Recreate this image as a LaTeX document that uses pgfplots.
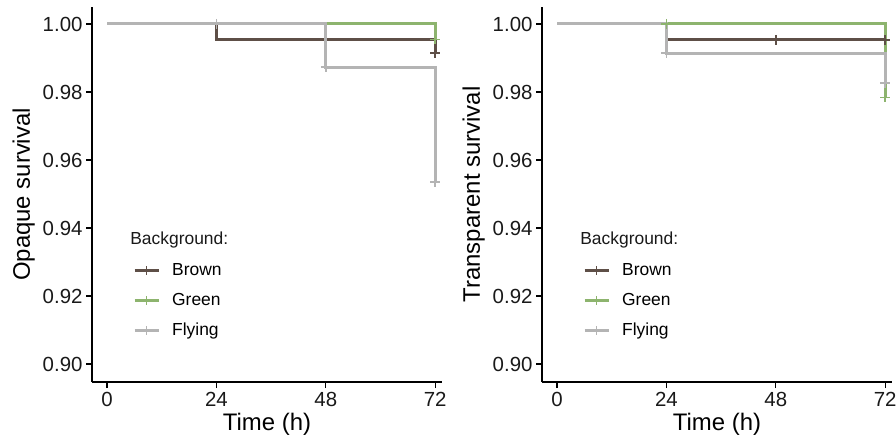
\documentclass[border=0pt]{standalone}
\usepackage{fontspec}
\setmainfont{Liberation Sans}
\usepackage{pgfplots}
\pgfplotsset{compat=1.18}

\definecolor{cbrown}{RGB}{94,79,71}
\definecolor{cgreen}{RGB}{141,180,110}
\definecolor{cgrey}{RGB}{180,180,180}
\definecolor{txt}{RGB}{25,25,25}

\pgfplotsset{
  survax/.style={
    scale only axis, width=350bp, height=375bp,
    anchor=south west, clip=false,
    xmin=-3.3, xmax=73.5, ymin=0.8947, ymax=1.005,
    axis x line*=bottom, axis y line*=left,
    axis line style={line width=1.1bp, black},
    xtick={0,24,48,72}, ytick={0.90,0.92,0.94,0.96,0.98,1.00},
    tick align=outside, major tick length=6bp,
    tick style={line width=1.1bp, black},
    ticklabel style={font=\fontsize{20.5}{23}\selectfont, text=txt},
    yticklabel style={/pgf/number format/.cd, fixed, fixed zerofill, precision=2, assume math mode=true},
    xticklabel style={/pgf/number format/assume math mode=true, yshift=-1bp},
    label style={font=\fontsize{24}{27}\selectfont, text=black},
    xlabel={Time (h)},
    xlabel style={at={(axis description cs:0.5,-0.112)}, anchor=center},
    ylabel style={at={(axis description cs:-0.195,0.5)}, anchor=center},
    legend image code/.code={
      \draw[mark repeat=2, mark phase=2, #1] plot coordinates {(0bp,0bp) (12bp,0bp) (24bp,0bp)};
    },
    legend style={draw=none, fill=none, inner sep=0pt, row sep=13bp, column sep=12bp,
      font=\fontsize{17.5}{20}\selectfont,
      nodes={inner sep=0pt, text height=13bp, text depth=4bp},
      at={(axis description cs:0.117,0.32)}, anchor=north west},
    legend cell align=left,
  },
  km/.style={const plot, line width=3bp, forget plot},
  cens/.style={only marks, mark=+, mark size=5bp, mark options={line width=1.5bp}, forget plot},
  key/.style={line width=3bp, mark=+, mark size=4.5bp, mark options={line width=1.5bp}},
}

\begin{document}
\begin{tikzpicture}
\path[use as bounding box] (0,0) rectangle (896bp,441bp);

% opaque
\begin{axis}[survax, at={(92bp,59bp)}, ylabel={Opaque survival}]
  \addplot[km, cbrown] coordinates {(0,1) (24,0.9955) (72,0.9915)};
  \addplot[km, cgreen] coordinates {(0,1) (72,0.9955)};
  \addplot[km, cgrey] coordinates {(0,1) (48,0.9873) (72,0.9535)};
  \addplot[cens, cbrown] coordinates {(72,0.9915)};
  \addplot[cens, cgreen] coordinates {(72,0.9955)};
  \addplot[cens, cgrey] coordinates {(24,1) (48,0.9873) (72,0.9535)};
  \addlegendimage{key, cbrown}\addlegendentry{Brown}
  \addlegendimage{key, cgreen}\addlegendentry{Green}
  \addlegendimage{key, cgrey}\addlegendentry{Flying}
  \node[anchor=west, inner sep=0pt, font=\fontsize{17.5}{20}\selectfont, text=txt]
    at (axis description cs:0.109,0.379) {Background:};
\end{axis}

% transparent
\begin{axis}[survax, at={(542bp,59bp)}, ylabel={Transparent survival}]
  \addplot[km, cbrown] coordinates {(0,1) (24,0.9953) (72,0.9953)};
  \addplot[km, cgreen] coordinates {(0,1) (72,0.9784)};
  \addplot[km, cgrey] coordinates {(0,1) (24,0.9914) (72,0.9826)};
  \addplot[cens, cbrown] coordinates {(48,0.9953) (72,0.9953)};
  \addplot[cens, cgreen] coordinates {(24,1) (72,0.9784)};
  \addplot[cens, cgrey] coordinates {(24,0.9914) (72,0.9826)};
  \addlegendimage{key, cbrown}\addlegendentry{Brown}
  \addlegendimage{key, cgreen}\addlegendentry{Green}
  \addlegendimage{key, cgrey}\addlegendentry{Flying}
  \node[anchor=west, inner sep=0pt, font=\fontsize{17.5}{20}\selectfont, text=txt]
    at (axis description cs:0.109,0.379) {Background:};
\end{axis}
\end{tikzpicture}
\end{document}
